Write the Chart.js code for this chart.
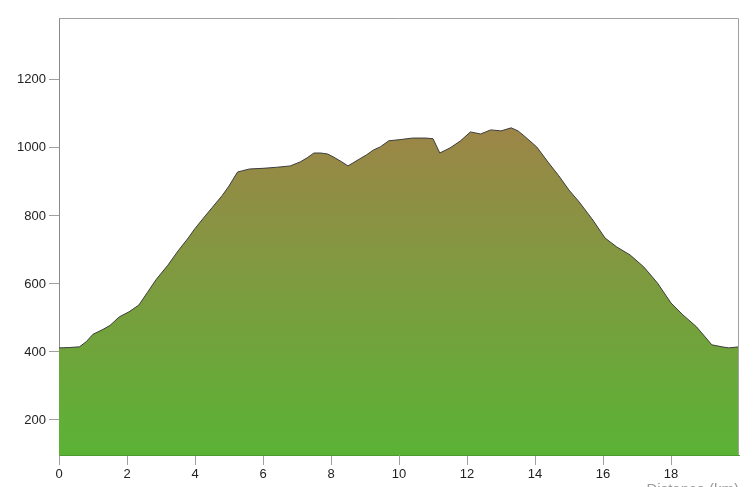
<!DOCTYPE html>
<html>
<head>
<meta charset="utf-8">
<script src="https://cdn.jsdelivr.net/npm/chart.js@4.4.1/dist/chart.umd.min.js"></script>
<style>
  html, body { margin: 0; padding: 0; background: #fff; overflow: hidden; }
  #wrap { width: 756px; height: 487px; overflow: hidden; }
  canvas { display: block; }
</style>
</head>
<body>
<div id="wrap"><canvas id="c" width="756" height="499"></canvas></div>
<script>
// Distance along the route (km)
const distances = [0, 0.3, 0.6, 0.8, 1.0, 1.27, 1.5, 1.77, 2.06, 2.35, 2.6, 2.85, 3.2, 3.5, 3.8, 4.0, 4.3, 4.5, 4.8, 5.0, 5.25, 5.4, 5.6, 6.0, 6.4, 6.8, 7.1, 7.3, 7.5, 7.7, 7.9, 8.06, 8.3, 8.5, 8.65, 9.05, 9.25, 9.45, 9.7, 10.0, 10.4, 10.8, 11.0, 11.2, 11.5, 11.8, 12.1, 12.4, 12.7, 13.0, 13.3, 13.5, 13.65, 14.05, 14.4, 14.7, 15.0, 15.3, 15.7, 16.06, 16.4, 16.8, 17.2, 17.6, 18.0, 18.35, 18.75, 19.2, 19.5, 19.7, 20.0];
// Elevation (m)
const elevations = [412, 413, 415, 430, 452, 465, 478, 503, 518, 538, 575, 612, 655, 697, 735, 763, 800, 824, 860, 888, 929, 933, 938, 940, 943, 947, 959, 971, 985, 985, 982, 974, 960, 947, 956, 980, 994, 1003, 1021, 1024, 1029, 1029, 1027, 985, 1000, 1020, 1047, 1041, 1053, 1050, 1059, 1050, 1038, 1003, 956, 918, 876, 841, 788, 735, 709, 685, 650, 603, 544, 509, 474, 421, 415, 412, 415];
const xTicks = [0, 2, 4, 6, 8, 10, 12, 14, 16, 18];
const yTicks = [200, 400, 600, 800, 1000, 1200];
const xTitle = 'Distance (km)';

const points = distances.map((d, i) => ({ x: d, y: elevations[i] }));

const framePlugin = {
  id: 'frame',
  afterDatasetsDraw(chart) {
    const { ctx, chartArea: a } = chart;
    ctx.save();
    ctx.strokeStyle = '#a0a0a0';
    ctx.lineWidth = 1;
    ctx.beginPath();
    ctx.moveTo(a.left, a.top + 0.5);
    ctx.lineTo(a.right - 0.5, a.top + 0.5);
    ctx.lineTo(a.right - 0.5, a.bottom);
    ctx.stroke();
    ctx.restore();
  }
};

const font = { family: 'Liberation Sans, Arial, sans-serif', size: 13 };

new Chart(document.getElementById('c'), {
  type: 'line',
  data: {
    datasets: [{
      data: points,
      borderColor: '#3c3c3c',
      borderWidth: 1,
      pointRadius: 0,
      tension: 0,
      fill: 'start',
      backgroundColor(ctx) {
        const a = ctx.chart.chartArea;
        if (!a) return '#7a9a40';
        const g = ctx.chart.ctx.createLinearGradient(0, a.top, 0, a.bottom);
        g.addColorStop(0, '#b3764e');
        g.addColorStop(1, '#5ab335');
        return g;
      }
    }]
  },
  options: {
    responsive: false,
    animation: false,
    layout: { padding: { top: 18, right: 17, left: 0, bottom: 0 } },
    plugins: { legend: { display: false }, tooltip: { enabled: false } },
    scales: {
      x: {
        type: 'linear',
        min: 0,
        max: 20,
        afterBuildTicks(s) { s.ticks = xTicks.map(v => ({ value: v })); },
        afterFit(s) { s.height = 44; },
        grid: { drawOnChartArea: false, tickLength: 10, color: '#a0a0a0' },
        border: { display: true, color: '#4c9a30', width: 1 },
        ticks: { color: '#222', padding: 2, maxRotation: 0, font, callback: v => String(v) },
        title: { display: true, text: xTitle, align: 'end', color: '#9a9a9a', padding: { top: 0, bottom: 0 }, font: { family: 'Liberation Sans, Arial, sans-serif', size: 15 } }
      },
      y: {
        type: 'linear',
        min: 97,
        max: 1382,
        afterBuildTicks(s) { s.ticks = yTicks.map(v => ({ value: v })); },
        afterFit(s) { s.width = 59; },
        grid: { drawOnChartArea: false, tickLength: 10, color: '#a0a0a0' },
        border: { display: true, color: '#8a8a8a', width: 1 },
        ticks: { color: '#222', padding: 3, font, callback: v => String(v) }
      }
    }
  },
  plugins: [framePlugin]
});
</script>
</body>
</html>
